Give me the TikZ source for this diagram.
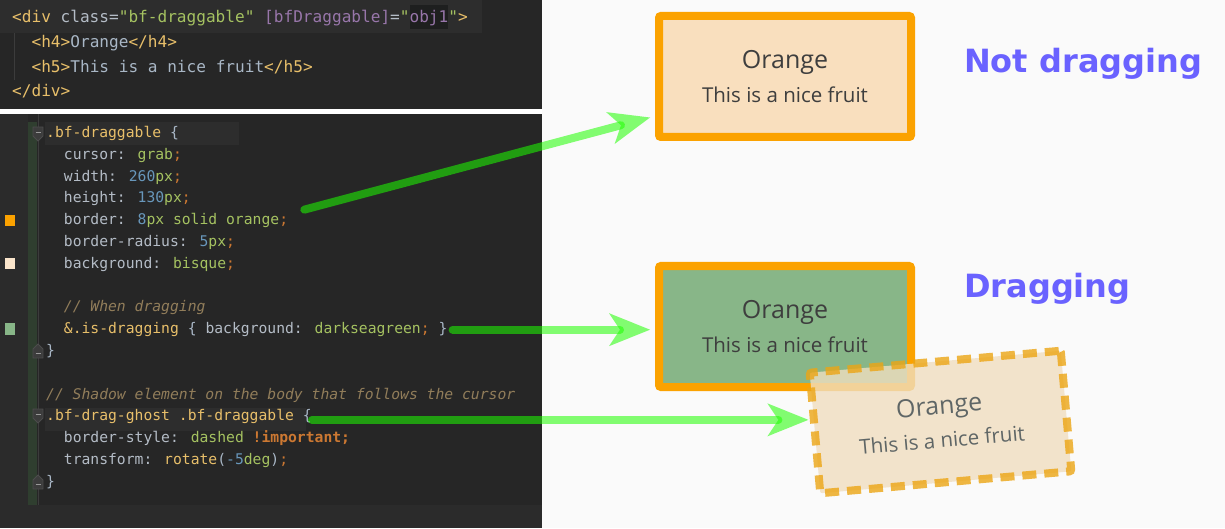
\documentclass[tikz,border=0pt]{standalone}
\usepackage{fontspec}
\setmainfont{Open Sans}
\newfontfamily\codefont{DejaVu Sans Mono}
\newfontfamily\headfont{DejaVu Sans}
\usepackage{tikz}
\usetikzlibrary{arrows.meta,positioning,calc}
\usepackage{xcolor}

\definecolor{pagebg}{HTML}{FAFAFA}
\definecolor{codebg}{HTML}{262626}
\definecolor{gutterbg}{HTML}{2B2B2B}
\definecolor{linehl}{HTML}{2D2D2D}
\definecolor{wordhl}{HTML}{1E1F1F}
\definecolor{foldbar}{HTML}{2F3E2F}
\definecolor{guide}{HTML}{3C3C3C}
\definecolor{codeplain}{HTML}{A9B7C6}
\definecolor{csstag}{HTML}{E8BF6A}
\definecolor{cssattr}{HTML}{B4BCC6}
\definecolor{cssstr}{HTML}{A5C261}
\definecolor{cssnum}{HTML}{6897BB}
\definecolor{csspur}{HTML}{9876AA}
\definecolor{csskw}{HTML}{CC7832}
\definecolor{csscom}{HTML}{917D5A}
\definecolor{boxorange}{HTML}{FBA200}
\definecolor{boxbisque}{HTML}{F9DFBE}
\definecolor{boxgreen}{HTML}{88B688}
\definecolor{fruittext}{HTML}{3E3E3E}
\definecolor{ghostorange}{RGB}{236,165,20}
\definecolor{ghostfill}{RGB}{240,222,192}
\definecolor{ghosttext}{HTML}{5F6666}
\definecolor{headblue}{HTML}{6A62FF}
\definecolor{dragGreen}{RGB}{30,255,0}

\newcommand{\ctag}[1]{\textcolor{csstag}{#1}}
\newcommand{\cattr}[1]{\textcolor{cssattr}{#1}}
\newcommand{\cstr}[1]{\textcolor{cssstr}{#1}}
\newcommand{\cnum}[1]{\textcolor{cssnum}{#1}}
\newcommand{\cpur}[1]{\textcolor{csspur}{#1}}
\newcommand{\ckw}[1]{\textcolor{csskw}{#1}}
\newcommand{\ccom}[1]{\textcolor{csscom}{\itshape #1}}

\tikzset{
  codeline/.style={anchor=base west, inner sep=0pt, text=codeplain, font=\codefont\fontsize{14.7pt}{17pt}\selectfont},
  htmlline/.style={codeline, font=\codefont\fontsize{16.1pt}{19pt}\selectfont},
  fruitbox/.style={draw=boxorange, line width=8pt, rounded corners=2pt, fill=boxbisque, minimum width=252pt, minimum height=121pt, align=center, text=fruittext, font=\fontsize{20.5pt}{33.5pt}\selectfont},
  ghostbox/.style={fruitbox, draw=ghostorange, draw opacity=.8, fill=ghostfill, fill opacity=.8, text opacity=1, text=ghosttext, dash pattern=on 14pt off 8pt},
  heading/.style={anchor=base west, inner sep=0pt, text=headblue, font=\headfont\bfseries\fontsize{32pt}{38pt}\selectfont},
  drag/.style={line width=8pt, line cap=round, draw=dragGreen, opacity=.55, -{Stealth[length=41pt, width=33pt, inset=11pt, line width=0pt]}},
  fold/.style={fill=guide, draw=gray!60!black, line width=.8pt}
}

\begin{document}
\begin{tikzpicture}[x=1pt,y=1pt]
\useasboundingbox (0,0) rectangle (1225,528);
\fill[pagebg] (0,0) rectangle (1225,528);

% editor panels
\fill[codebg] (0,419) rectangle (542,528);
\fill[linehl] (0,495) rectangle (482,528);
\fill[wordhl] (410,499) rectangle (448,523);
\fill[white] (0,414) rectangle (542,419);
\fill[codebg] (0,23) rectangle (542,414);
\fill[gutterbg] (0,0) rectangle (542,23);
\fill[gutterbg] (0,23) rectangle (28,414);
\fill[foldbar] (28,23) rectangle (37,406);
\draw[guide, line width=1pt] (38,23) -- (38,414);
\draw[guide, line width=1pt] (14,448) -- (14,495);
\fill[linehl] (45,383) rectangle (239,406);
\fill[linehl] (45,97) rectangle (306,120);

% colour markers
\fill[boxorange] (5,302) rectangle (15,313);
\fill[boxbisque!80!white] (5,259) rectangle (15,270);
\fill[boxgreen] (5,193) rectangle (15,205);

% fold icons
\foreach \y in {394,112} {
  \draw[fold] (33,\y+7) -- (43,\y+7) -- (43,\y-2) -- (38,\y-7) -- (33,\y-2) -- cycle;
  \draw[gray!80, line width=.8pt] (35.5,\y+2) -- (40.5,\y+2);
}
\foreach \y in {177,46} {
  \draw[fold] (33,\y-7) -- (43,\y-7) -- (43,\y+2) -- (38,\y+7) -- (33,\y+2) -- cycle;
  \draw[gray!80, line width=.8pt] (35.5,\y-2) -- (40.5,\y-2);
}

% html
\node[htmlline] (htmldiv) at (12,505) {\ctag{<div} \cattr{class=}\cstr{"bf-draggable"} \cpur{[bfDraggable]}\cattr{=}\cstr{"}\cpur{obj1}\cstr{"}\ctag{>}};
\node[htmlline] (htmlh4) at (31.4,480) {\ctag{<h4>}Orange\ctag{</h4>}};
\node[htmlline] (htmlh5) at (31.4,455.5) {\ctag{<h5>}This is a nice fruit\ctag{</h5>}};
\node[htmlline] (htmlend) at (12,431) {\ctag{</div>}};

% less
\node[codeline] (cssrule) at (46,390.5) {\ctag{.bf-draggable} \{};
\node[codeline] (csscursor) at (63.7,368.7) {\cattr{cursor:} \cstr{grab}\ckw{;}};
\node[codeline] (csswidth) at (63.7,346.9) {\cattr{width:} \cnum{260}\cstr{px}\ckw{;}};
\node[codeline] (cssheight) at (63.7,325.1) {\cattr{height:} \cnum{130}\cstr{px}\ckw{;}};
\node[codeline] (cssborder) at (63.7,303.3) {\cattr{border:} \cnum{8}\cstr{px solid orange}\ckw{;}};
\node[codeline] (cssradius) at (63.7,281.5) {\cattr{border-radius:} \cnum{5}\cstr{px}\ckw{;}};
\node[codeline] (cssbg) at (63.7,259.7) {\cattr{background:} \cstr{bisque}\ckw{;}};
\node[codeline] (csscomment) at (63.7,216.1) {\ccom{// When dragging}};
\node[codeline] (isdrag) at (63.7,194.3) {\ctag{\&.is-dragging} \{ \cattr{background:} \cstr{darkseagreen}\ckw{;} \}};
\node[codeline] (cssclose) at (46,172.5) {\}};
\node[codeline] (ghostcomment) at (46,128.9) {\ccom{// Shadow element on the body that follows the cursor}};
\node[codeline] (selghost) at (46,107.1) {\ctag{.bf-drag-ghost .bf-draggable} \{};
\node[codeline] (ghoststyle) at (63.7,85.3) {\cattr{border-style:} \cstr{dashed} \ckw{\bfseries !important;}};
\node[codeline] (ghosttransform) at (63.7,63.5) {\cattr{transform:} \ctag{rotate}(\cnum{-5}\cstr{deg})\ckw{;}};
\node[codeline] (ghostclose) at (46,41.7) {\}};

% rendered boxes
\node[fruitbox] (notdrag) at (785,451.5) {{\fontsize{25pt}{33.5pt}\selectfont Orange}\\This is a nice fruit};
\node[fruitbox, fill=boxgreen] (dragging) at (785,201.5) {{\fontsize{25pt}{33.5pt}\selectfont Orange}\\This is a nice fruit};
\node[ghostbox, rotate=5] (ghost) at (940.5,106) {{\fontsize{25pt}{33.5pt}\selectfont Orange}\\This is a nice fruit};

\node[heading] (ndhead) at (964,455) {Not dragging};
\node[heading] (dhead) at (964,231) {Dragging};

% arrows
\draw[drag] ([shift={(16pt,11pt)}]cssborder.east) -- ([shift={(-5pt,-41pt)}]notdrag.west);
\draw[drag] ([xshift=5pt]isdrag.east) -- ($(isdrag.east -| dragging.west)+(-5,0)$);
\draw[drag] ([yshift=-3pt]selghost.east) -- ($([yshift=-3pt]selghost.east -| ghost.north west)+(3,0)$);
\end{tikzpicture}
\end{document}
